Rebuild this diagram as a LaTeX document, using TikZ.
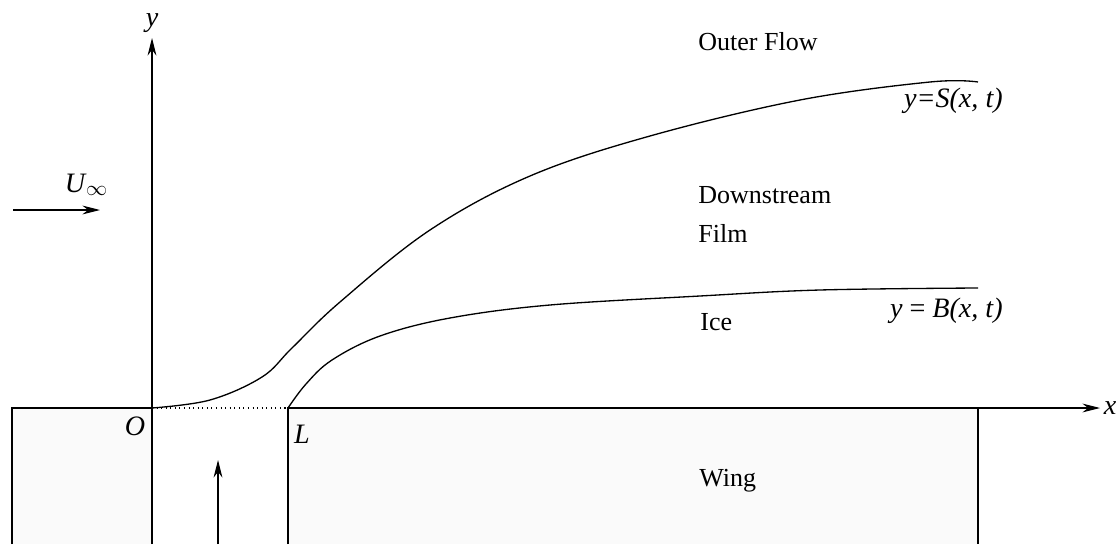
\documentclass[tikz,border=0pt]{standalone}
\usepackage{fontspec}
\setmainfont{Liberation Serif}
\usetikzlibrary{positioning, arrows.meta}
\tikzset{
  wingblk/.style  = {draw=black, line width=0.6pt, fill=gray!4},
  axisarr/.style  = {-{Stealth[length=10pt, width=5pt]}, line width=0.6pt},
  flowarr/.style  = {-{Stealth[length=10pt, width=5pt]}, line width=0.6pt},
  ifline/.style   = {line width=0.75pt},
  regionlbl/.style= {font=\fontsize{14.8}{17}\selectfont, align=left, inner sep=0pt},
  axislbl/.style  = {font=\fontsize{16}{18}\selectfont\itshape, inner sep=0pt},
}
\begin{document}
\begin{tikzpicture}[x=0.02cm, y=-0.02cm]
  \useasboundingbox (0,0) rectangle (1118,544);
  % wing blocks
  \draw[wingblk] (12,544) -- (12,408) -- (152,408) -- (152,544);
  \draw[wingblk] (288,544) -- (288,408) -- (978,408) -- (978,544);
  \draw[line width=0.6pt, dotted] (152,408) -- (288,408);
  % axes
  \coordinate (orig) at (152,408);
  \coordinate (xend) at (1100,408);
  \coordinate (ybot) at (152,544);
  \coordinate (yend) at (152,38);
  \draw[axisarr] (978,408) -- (xend);
  \draw[axisarr] (ybot) -- (yend);
  \node[axislbl, right=2pt of xend] (xlbl) {x};
  \node[axislbl, above=3pt of yend] (ylbl) {y};
  \node[axislbl] (olbl) at (135,426) {O};
  \node[axislbl] (llbl) at (302,434) {L};
  % free stream and inflow
  \coordinate (uin) at (13,210);
  \coordinate (uout) at (100,210);
  \draw[flowarr] (uin) -- (uout);
  \node[axislbl] (uinf) at (86,185) {U\kern0.5pt\raisebox{-2pt}{\upshape\fontsize{12}{14}\selectfont$\infty$}};
  \coordinate (qin) at (218,544);
  \coordinate (qout) at (218,460);
  \draw[flowarr] (qin) -- (qout);
  % film surface and ice surface
  \draw[ifline] plot[smooth, tension=0.6] coordinates {(152,408) (210,400) (262,377) (292,348)
    (340,302) (430,230) (530,176) (650,136) (800,100) (930,82) (978,82)};
  \draw[ifline] plot[smooth, tension=0.6] coordinates {(288,408) (306,384) (332,360)
    (380,336) (450,318) (550,305) (700,296) (820,290) (978,288)};
  % labels
  \node[regionlbl, anchor=west] (outer) at (698,42) {Outer Flow};
  \node[regionlbl, anchor=north west] (film) at (698,186) {Downstream\\[5pt]Film};
  \node[regionlbl, anchor=west] (ice) at (700,322) {Ice};
  \node[regionlbl, anchor=west] (wing) at (699,481) {Wing};
  \node[axislbl, anchor=east] (slbl) at (1003,101) {y=S(x, t)};
  \node[axislbl, anchor=east] (blbl) at (1003,311) {y {\upshape=} B(x, t)};
\end{tikzpicture}
\end{document}
